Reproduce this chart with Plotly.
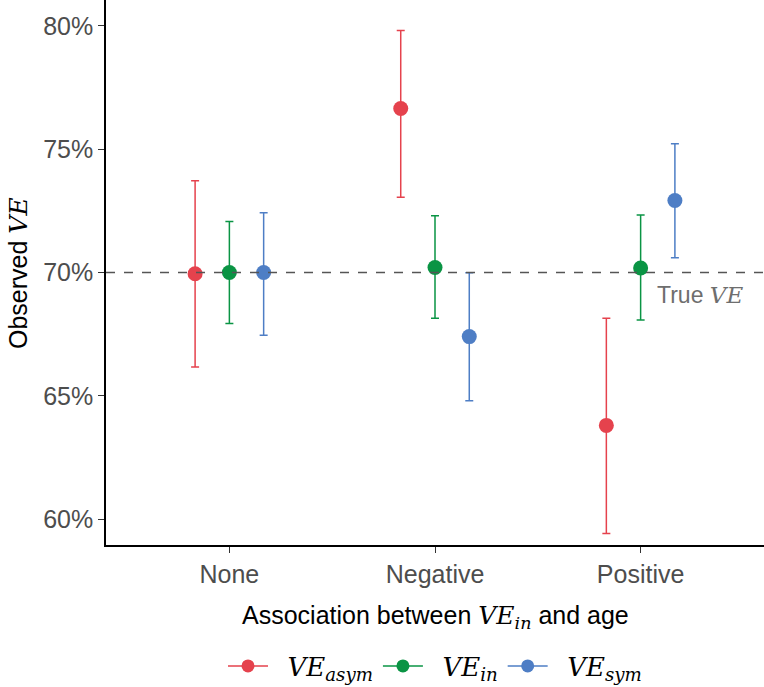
import plotly.graph_objects as go

categories = ["None", "Negative", "Positive"]
series_names = ["asym", "in", "sym"]
series_colors = ["#E5424D", "#0A9444", "#4E7EC5"]

ve_asym = [69.95, 76.65, 63.80]
ve_asym_lo = [66.17, 73.05, 59.42]
ve_asym_hi = [73.72, 79.81, 68.14]

ve_in = [70.00, 70.20, 70.18]
ve_in_lo = [67.93, 68.14, 68.07]
ve_in_hi = [72.07, 72.30, 72.33]

ve_sym = [70.00, 67.40, 72.92]
ve_sym_lo = [67.46, 64.80, 70.60]
ve_sym_hi = [72.42, 69.99, 75.22]

y_ticks = [60, 65, 70, 75, 80]
y_ticklabels = ["60%", "65%", "70%", "75%", "80%"]

true_ve = 70

series = [
    (ve_asym, ve_asym_lo, ve_asym_hi),
    (ve_in, ve_in_lo, ve_in_hi),
    (ve_sym, ve_sym_lo, ve_sym_hi),
]

MATH = "font-family:'DejaVu Serif', 'Liberation Serif', serif;font-style:italic"

def ve(sub=None):
    s = f"<span style=\"{MATH}\">VE</span>"
    if sub:
        s += f"<sub><span style=\"{MATH}\">{sub}</span></sub>"
    return s

SANS = "Arial, Liberation Sans, sans-serif"
FS = 25
dodge = 0.5
n = len(series)
fig = go.Figure()
for i, ((vals, lo, hi), name, col) in enumerate(zip(series, series_names, series_colors)):
    off = (i - (n - 1) / 2) * dodge / n
    xs = [k + 1 + off for k in range(len(categories))]
    fig.add_trace(go.Scatter(
        x=xs, y=vals, mode="markers",
        marker=dict(color=col, size=15),
        error_y=dict(type="data", symmetric=False,
                     array=[h - v for h, v in zip(hi, vals)],
                     arrayminus=[v - l for v, l in zip(vals, lo)],
                     color=col, thickness=1.5, width=4),
        showlegend=False,
    ))
    fig.add_trace(go.Scatter(
        x=[None], y=[None], mode="lines+markers",
        marker=dict(color=col, size=13), line=dict(color=col, width=1.5),
        name="&nbsp;&nbsp;" + ve(name), showlegend=True,
    ))

fig.add_hline(y=true_ve, line=dict(color="#555555", width=1.5, dash="dash"))
fig.add_annotation(x=3.07, y=true_ve, xref="x", yref="y", yshift=-22, xanchor="left",
                   text="True " + ve(), showarrow=False,
                   font=dict(size=23, color="#6E6E6E", family=SANS))
fig.add_annotation(x=-0.133, y=0.5, xref="paper", yref="paper", textangle=-90,
                   text="Observed " + ve(), showarrow=False, xanchor="center", yanchor="middle",
                   font=dict(size=FS, color="black", family=SANS))
fig.add_annotation(x=0.5, y=-0.132, xref="paper", yref="paper",
                   text="Association between " + ve("in") + " and age", showarrow=False,
                   xanchor="center", yanchor="middle",
                   font=dict(size=FS, color="black", family=SANS))

fig.update_layout(
    width=764, height=687,
    paper_bgcolor="white", plot_bgcolor="white",
    margin=dict(l=106, r=0, t=0, b=142, autoexpand=False),
    font=dict(family=SANS, size=FS, color="black"),
    showlegend=True,
    xaxis=dict(range=[0.4, 3.6], tickvals=[1, 2, 3], ticktext=categories, automargin=False,
               showgrid=False, zeroline=False, showline=True, linecolor="black", linewidth=1.5,
               ticks="outside", ticklen=6, tickcolor="#333333",
               tickfont=dict(size=FS, color="#4D4D4D")),
    yaxis=dict(range=[58.95, 81.05], tickvals=y_ticks, ticktext=y_ticklabels, automargin=False,
               showgrid=False, zeroline=False, showline=True, linecolor="black", linewidth=1.5,
               ticks="outside", ticklen=6, tickcolor="#333333",
               tickfont=dict(size=FS, color="#4D4D4D")),
    legend=dict(orientation="h", x=0.5, xanchor="center", y=-0.222, yanchor="middle",
                font=dict(size=26, color="black"), itemwidth=40, tracegroupgap=0),
)

fig.write_html("out.html", config={"displayModeBar": False},
               post_script="document.body.style.margin='0';document.body.style.overflow='hidden';")
